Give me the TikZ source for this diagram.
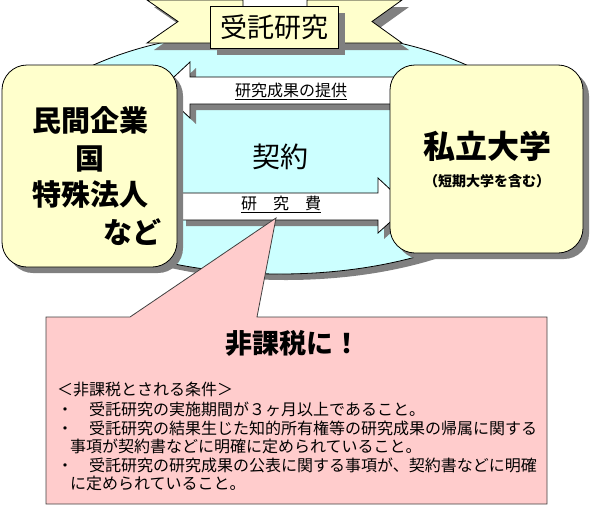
\documentclass[tikz,border=0pt]{standalone}
\usepackage{fontspec}
\newfontfamily\jp{Noto Sans CJK JP}
\usetikzlibrary{shapes.geometric,shadows}
\definecolor{boxfill}{RGB}{255,255,204}
\definecolor{ellfill}{RGB}{204,255,255}
\definecolor{pinkfill}{RGB}{255,204,204}
\definecolor{shad}{RGB}{128,128,128}
\begin{document}
\begin{tikzpicture}[x=1pt,y=-1pt,
  shd/.style={drop shadow={shadow xshift=#1pt,shadow yshift=-#1pt,fill=shad,opacity=1}},
  outl/.style={draw=black,line width=0.8pt},
  bigbox/.style={outl,fill=boxfill,rounded corners=25pt,inner sep=0pt,shd=6},
  jpt/.style={font=\jp\fontsize{#1}{#1}\selectfont,inner sep=0pt},
  jpb/.style={font=\jp\bfseries\fontsize{#1}{#1}\selectfont,inner sep=0pt},
  cond/.style={jpt=16,anchor=west}]
\useasboundingbox (0,0) rectangle (593,506);
% ellipse
\node[ellipse,outl,fill=ellfill,minimum width=532pt,minimum height=244pt,inner sep=0pt,shd=6] (oval) at (280,152) {};
% banner
\fill[shad] (154,7) -- (250,7) -- (250,50) -- (154,50) -- (185,28.5) -- cycle;
\fill[shad] (409,7) -- (314,7) -- (314,50) -- (409,50) -- (379,28.5) -- cycle;
\draw[outl,fill=boxfill] (147,0) -- (243,0) -- (243,43) -- (147,43) -- (178,21.5) -- cycle;
\draw[outl,fill=boxfill] (402,0) -- (307,0) -- (307,43) -- (402,43) -- (372,21.5) -- cycle;
\node[outl,fill=boxfill,minimum width=128pt,minimum height=42pt,inner sep=0pt,shd=7,jpt=27] (banner) at (274,27) {受託研究};
% arrows
\coordinate (a1tip) at (160,90);
\coordinate (a2tip) at (408,206);
\draw[outl,fill=white,shd=6] (a1tip) -- (190,62) -- (190,77) -- (395,77) -- (395,104) -- (190,104) -- (190,118) -- cycle;
\draw[outl,fill=white,shd=6] (a2tip) -- (378,178) -- (378,193) -- (180,193) -- (180,220) -- (378,220) -- (378,233) -- cycle;
\node[jpt=16] (res) at (291,91) {\underline{研究成果の提供}};
\node[jpt=16] (fee) at (281,204) {\underline{研　究　費}};
\node[jpt=28] (kei) at (280,157) {契約};
% boxes
\node[bigbox,minimum width=175pt,minimum height=202pt] (org) at (89.5,166) {};
\node[bigbox,minimum width=193pt,minimum height=188pt] (univ) at (486.5,159) {};
\node[jpb=29] (t1) at (90,120) {民間企業};
\node[jpb=29] (t2) at (90,159) {国};
\node[jpb=29] (t3) at (90,195) {特殊法人};
\node[jpb=29] (t4) at (132,232) {など};
\node[jpb=32] (u1) at (487,146) {私立大学};
\node[jpb=14] (u2) at (487,181) {（短期大学を含む）};
% callout
\draw[draw=black!75,line width=0.8pt,fill=pinkfill] (46,317) -- (130,317) -- (276,218) -- (257,317) -- (547,317) -- (547,504) -- (46,504) -- cycle;
\node[jpb=27] (tax) at (293,343) {非課税に！};
\node[cond] (c1) at (57,389) {＜非課税とされる条件＞};
\node[cond] (c2) at (57,409) {・　受託研究の実施期間が３ヶ月以上であること。};
\node[cond] (c3) at (57,428) {・　受託研究の結果生じた知的所有権等の研究成果の帰属に関する};
\node[cond] (c4) at (70,446) {事項が契約書などに明確に定められていること。};
\node[cond] (c5) at (57,465) {・　受託研究の研究成果の公表に関する事項が、契約書などに明確};
\node[cond] (c6) at (70,483) {に定められていること。};
\end{tikzpicture}
\end{document}
